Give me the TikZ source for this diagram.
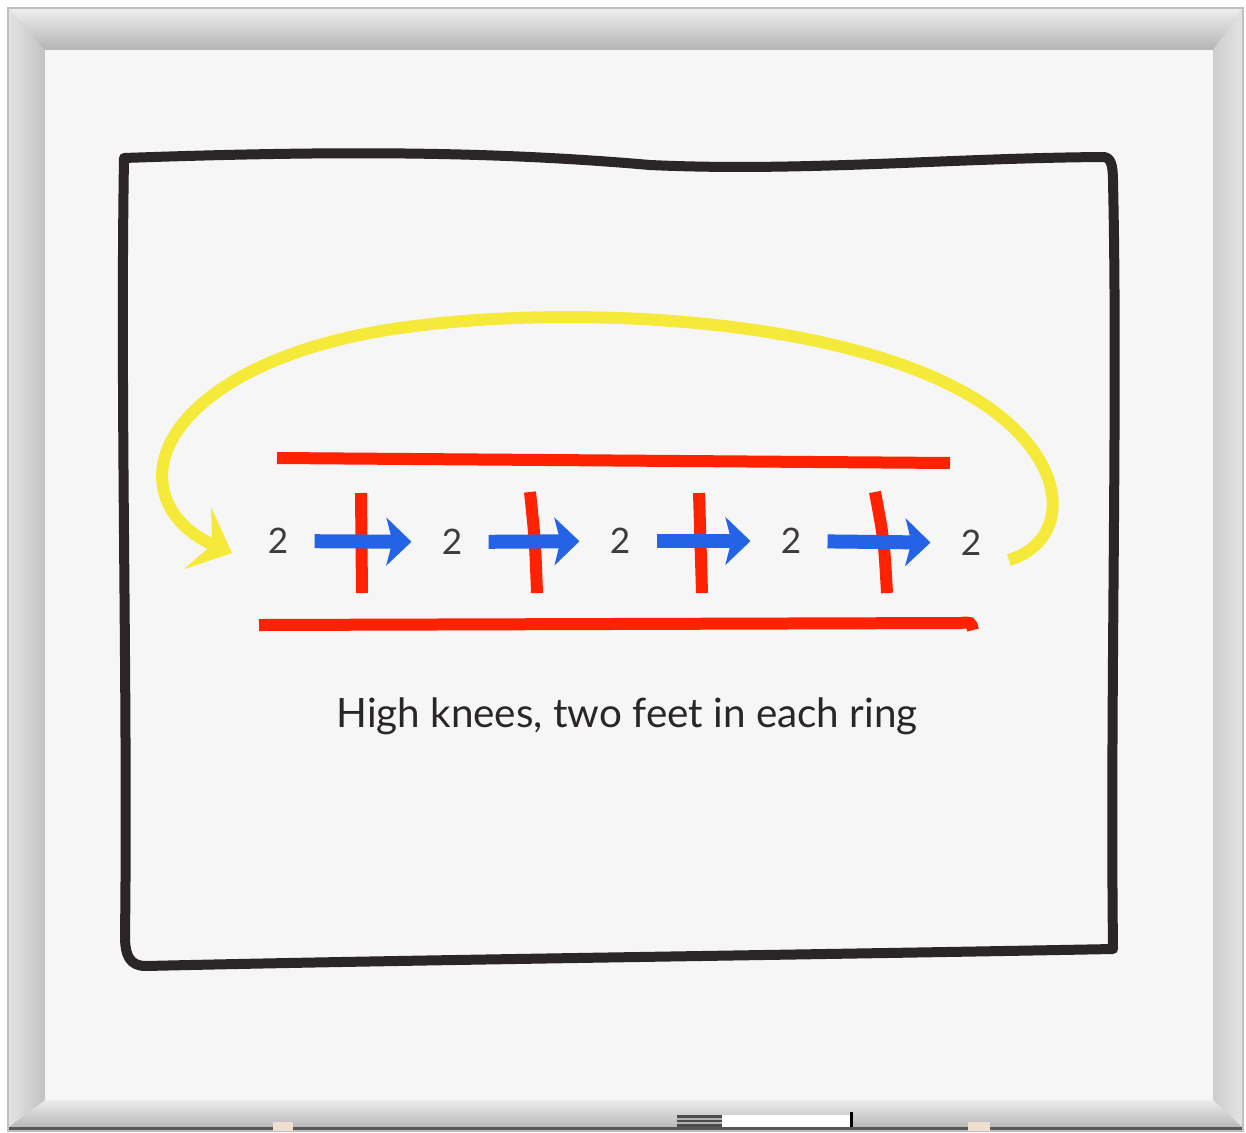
\documentclass[tikz,border=0pt]{standalone}
\usepackage{fontspec}
\setmainfont{Lato}
\usepackage{tikz}
\usetikzlibrary{arrows.meta, positioning, calc}

\definecolor{boardbg}{HTML}{F6F6F6}
\definecolor{framelt}{HTML}{E4E4E4}
\definecolor{framedk}{HTML}{B4B4B4}
\definecolor{ink}{HTML}{2A2526}
\definecolor{penred}{HTML}{FF2200}
\definecolor{penblue}{HTML}{2463E6}
\definecolor{penyellow}{HTML}{F5E93A}

\begin{document}
\begin{tikzpicture}[
  x=0.02cm, y=-0.02cm,
  board/.style={draw=ink, line width=0.2cm, line cap=round, line join=round},
  ring/.style={draw=penred, line width=0.24cm},
  hop/.style={draw=penblue, line width=0.28cm,
              -{Stealth[length=0.5cm, width=0.95cm, inset=0.12cm]},
              shorten <=0.52cm, shorten >=0.6cm},
  loopback/.style={draw=penyellow, line width=0.24cm,
                   -{Stealth[length=0.75cm, width=1.35cm, inset=0.32cm]}},
  count/.style={inner sep=0pt, text=ink!90, font=\fontsize{20}{24}\selectfont},
  caption/.style={text=ink, font=\fontsize{23}{27}\selectfont}
]
  \useasboundingbox (0,0) rectangle (1246,1132);

  % Frame
  \fill[framedk] (8,8) rectangle (1243,1131);
  \shade[top color=framelt!60, bottom color=framedk]
    (8,8) -- (1243,8) -- (1213,50) -- (45,50) -- cycle;
  \shade[left color=framelt, right color=framelt!85!black]
    (8,8) -- (45,50) -- (45,1100) -- (8,1128) -- cycle;
  \shade[left color=framelt!90!black, right color=framelt]
    (1243,8) -- (1213,50) -- (1213,1100) -- (1243,1128) -- cycle;
  \shade[top color=framelt!70, bottom color=framelt!80!black]
    (45,1100) -- (1213,1100) -- (1243,1128) -- (8,1128) -- cycle;
  \fill[black!65] (8,1127) rectangle (1243,1131);
  \draw[black!25, line width=0.6pt] (8,8) rectangle (1243,1131);
  \fill[boardbg] (45,50) rectangle (1213,1100);

  % Marker and clips on the tray
  \fill[black!70] (677,1115) rectangle (722,1127);
  \draw[black!30, line width=0.6pt] (677,1119) -- (722,1119) (677,1123) -- (722,1123);
  \fill[white] (722,1115) rectangle (850,1127);
  \fill[black] (850,1112) rectangle (853,1127);
  \fill[brown!25] (273,1122) rectangle (293,1131);
  \fill[brown!25] (968,1122) rectangle (990,1131);

  % Hand-drawn box
  \draw[board] (124,158) .. controls (350,150) and (500,152) .. (650,165)
    .. controls (800,172) and (950,158) .. (1104,157)
    .. controls (1111,158) and (1113,165) .. (1113,182)
    .. controls (1118,400) and (1110,700) .. (1113,949)
    .. controls (800,955) and (400,960) .. (146,966)
    .. controls (130,966) and (125,956) .. (125,936)
    .. controls (128,700) and (120,400) .. (124,158) -- cycle;

  % Rings
  \draw[ring] (277,458) -- (950,463);
  \draw[ring] (259,625) -- (960,623) .. controls (971,622) .. (973,630);
  \draw[ring] (361,493) -- (362,593);
  \draw[ring] (530,492) .. controls (535,540) .. (537,593);
  \draw[ring] (699,493) -- (702,593);
  \draw[ring] (875,492) .. controls (884,540) .. (887,593);

  % Counts
  \node[count] (two1) at (278,541) {2};
  \node[count] (two2) at (452,542) {2};
  \node[count] (two3) at (620,541) {2};
  \node[count] (two4) at (791,541) {2};
  \node[count] (two5) at (971,543) {2};

  % Hops
  \draw[hop] (two1) -- (two2);
  \draw[hop] (two2) -- (two3);
  \draw[hop] (two3) -- (two4);
  \draw[hop] (two4) -- (two5);

  % Back to start
  \coordinate (back) at (1009,560);
  \coordinate (land) at (232,553);
  \draw[loopback] (back) .. controls (1075,540) and (1072,450) .. (960,390)
    .. controls (820,315) and (560,305) .. (400,328)
    .. controls (230,352) and (145,430) .. (165,495)
    .. controls (172,520) and (195,537) .. (land);

  \node[caption] (note) at (627,716) {High knees, two feet in each ring};
\end{tikzpicture}
\end{document}
